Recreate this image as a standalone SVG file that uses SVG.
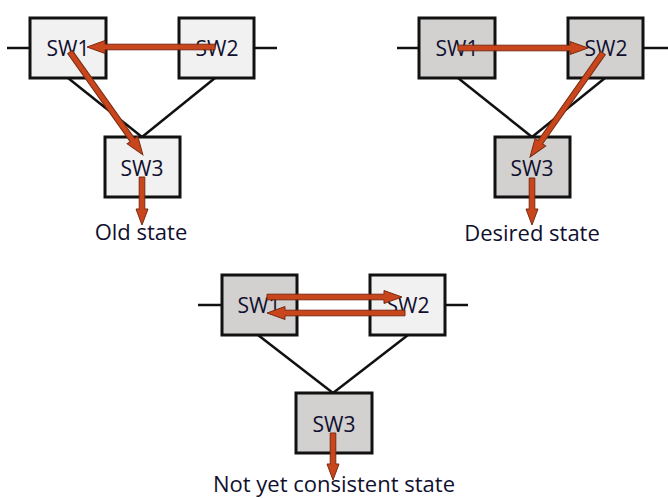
<svg xmlns="http://www.w3.org/2000/svg" width="668" height="498" viewBox="0 0 668 498">
<style>
.box{stroke:#111;stroke-width:3}
.light{fill:#f1f1f1}
.dark{fill:#d3d0d0}
.lk{stroke:#111;stroke-width:2.5;fill:none}
.t{font-family:"Open Sans","Liberation Sans",sans-serif;font-size:21px;fill:#10102e;text-anchor:middle}
.lb{font-size:22px}
.ar{fill:#c9461c;stroke:#7a2a10;stroke-width:1}
</style>
<g id="connectors">
<line class="lk" x1="7" y1="48" x2="30" y2="48"/>
<line class="lk" x1="254" y1="48" x2="277" y2="48"/>
<line class="lk" x1="68" y1="78" x2="142" y2="137"/>
<line class="lk" x1="215" y1="78" x2="142" y2="137"/>
<line class="lk" x1="397" y1="48" x2="419" y2="48"/>
<line class="lk" x1="643" y1="48" x2="668" y2="48"/>
<line class="lk" x1="458" y1="78" x2="532" y2="137"/>
<line class="lk" x1="605" y1="78" x2="532" y2="137"/>
<line class="lk" x1="198" y1="305" x2="222" y2="305"/>
<line class="lk" x1="445" y1="305" x2="468" y2="305"/>
<line class="lk" x1="258" y1="335" x2="333" y2="393"/>
<line class="lk" x1="408" y1="335" x2="333" y2="393"/>
</g>
<g id="d1-sw1"><rect class="box light" x="30" y="18" width="76" height="60"/><text class="t" x="68" y="56">SW1</text></g>
<g id="d1-sw2"><rect class="box light" x="179" y="18" width="75" height="60"/><text class="t" x="217" y="56">SW2</text></g>
<g id="d1-sw3"><rect class="box light" x="105" y="137" width="75" height="60"/><text class="t" x="142" y="176">SW3</text></g>
<g id="d2-sw1"><rect class="box dark" x="419" y="18" width="76" height="60"/><text class="t" x="457" y="56">SW1</text></g>
<g id="d2-sw2"><rect class="box dark" x="568" y="18" width="75" height="60"/><text class="t" x="606" y="56">SW2</text></g>
<g id="d2-sw3"><rect class="box dark" x="495" y="137" width="75" height="60"/><text class="t" x="532" y="176">SW3</text></g>
<g id="d3-sw1"><rect class="box dark" x="222" y="275" width="75" height="60"/><text class="t" x="259" y="313">SW1</text></g>
<g id="d3-sw2"><rect class="box light" x="370" y="275" width="75" height="60"/><text class="t" x="408" y="313">SW2</text></g>
<g id="d3-sw3"><rect class="box dark" x="296" y="393" width="76" height="60"/><text class="t" x="334" y="432">SW3</text></g>
<g id="flows">
<polygon class="ar" transform="translate(215,47) rotate(180)" points="0,-2.8 110,-2.8 110,-6.5 128,0 110,6.5 110,2.8 0,2.8"/>
<polygon class="ar" transform="translate(70,52) rotate(54.67)" points="0,-2.8 108,-2.8 108,-6.5 126,0 108,6.5 108,2.8 0,2.8"/>
<polygon class="ar" transform="translate(142,177) rotate(90)" points="0,-2.8 32,-2.8 32,-6 48,0 32,6 32,2.8 0,2.8"/>
<polygon class="ar" transform="translate(458,48)" points="0,-2.8 112,-2.8 112,-6.5 130,0 112,6.5 112,2.8 0,2.8"/>
<polygon class="ar" transform="translate(603,53) rotate(125.07)" points="0,-2.8 109,-2.8 109,-6.5 127,0 109,6.5 109,2.8 0,2.8"/>
<polygon class="ar" transform="translate(532,178) rotate(90)" points="0,-2.8 31,-2.8 31,-6 47,0 31,6 31,2.8 0,2.8"/>
<polygon class="ar" transform="translate(267,297)" points="0,-2.8 117,-2.8 117,-6.5 135,0 117,6.5 117,2.8 0,2.8"/>
<polygon class="ar" transform="translate(405,313) rotate(180)" points="0,-2.8 120,-2.8 120,-6.5 138,0 120,6.5 120,2.8 0,2.8"/>
<polygon class="ar" transform="translate(333,433) rotate(90)" points="0,-2.8 31,-2.8 31,-6 47,0 31,6 31,2.8 0,2.8"/>
</g>
<text class="t lb" x="141" y="240">Old state</text>
<text class="t lb" x="532" y="241">Desired state</text>
<text class="t lb" x="334" y="492">Not yet consistent state</text>
</svg>
